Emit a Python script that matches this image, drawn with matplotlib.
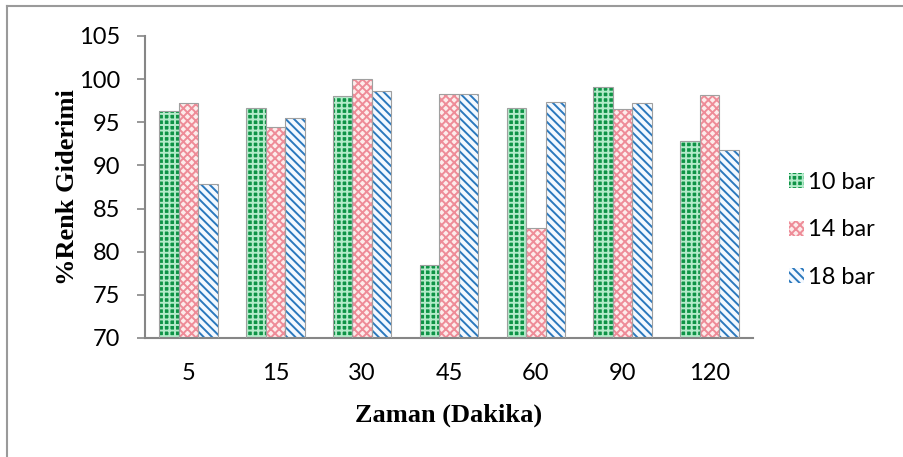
import matplotlib
matplotlib.use("Agg")
import matplotlib.pyplot as plt
import numpy as np
from matplotlib.lines import Line2D

plt.rcParams['hatch.linewidth'] = 1.4

categories = ["5", "15", "30", "45", "60", "90", "120"]
bar10 = [96.3, 96.6, 98.1, 78.5, 96.6, 99.1, 92.8]
bar14 = [97.2, 94.4, 100.0, 98.3, 82.8, 96.5, 98.2]
bar18 = [87.8, 95.5, 98.6, 98.3, 97.4, 97.2, 91.8]
series_names = ["10 bar", "14 bar", "18 bar"]
yticks = [70, 75, 80, 85, 90, 95, 100, 105]

W, H = 904, 457
fig = plt.figure(figsize=(W / 100, H / 100), dpi=100)
ax = fig.add_axes([145 / W, (H - 338) / H, 608 / W, 302 / H])

x = np.arange(len(categories))
bw = 0.225
styles = [
    dict(facecolor="#0e9346", edgecolor="#b4ebca", hatch="+++"),
    dict(facecolor="#fdeceb", edgecolor="#ee8c98", hatch="xxxx"),
    dict(facecolor="#f4f9ff", edgecolor="#2b78bd", hatch="\\\\\\\\"),
]
for i, (vals, name, st) in enumerate(zip([bar10, bar14, bar18], series_names, styles)):
    bars = ax.bar(x + (i - 1) * bw, np.array(vals) - 70, bottom=70, width=bw,
                  facecolor=st["facecolor"], edgecolor=st["edgecolor"],
                  hatch=st["hatch"], linewidth=0, label=name, zorder=2)
    for b in bars:
        ax.add_patch(plt.Rectangle((b.get_x(), 70), b.get_width(), b.get_height(),
                                   fill=False, edgecolor="#a0a0a0", linewidth=0.8, zorder=3))

ax.set_xlim(-0.5, len(categories) - 0.5)
ax.set_ylim(70, 105)
ax.set_yticks(yticks)
ax.set_xticks(x)
ax.set_xticklabels(categories)

for s in ["top", "right"]:
    ax.spines[s].set_visible(False)
for s in ["left", "bottom"]:
    ax.spines[s].set_color("#868686")
    ax.spines[s].set_linewidth(1.5)
ax.tick_params(axis="y", direction="out", length=6, width=1.2, color="#868686",
               labelsize=17, pad=12)
ax.tick_params(axis="x", length=0, labelsize=17, pad=18)
for lab in ax.get_xticklabels() + ax.get_yticklabels():
    lab.set_fontfamily("Lato")

ax.set_ylabel("%Renk Giderimi", fontfamily="Liberation Serif", fontweight="bold",
              fontsize=19, labelpad=0)
ax.set_xlabel("Zaman (Dakika)", fontfamily="Liberation Serif", fontweight="bold",
              fontsize=19, labelpad=14)

leg = ax.legend(loc="center left", bbox_to_anchor=(1.025, 0.358), frameon=False,
                prop={"family": "Lato", "size": 17}, handlelength=0.6,
                handleheight=0.6, handletextpad=0.2, labelspacing=1.12)

# outer chart border (top and left only visible)
fig.add_artist(Line2D([7 / W, 7 / W], [0, 1 - 6 / H], transform=fig.transFigure,
                      color="#9a9a9a", linewidth=1.5))
fig.add_artist(Line2D([7 / W, 1], [1 - 6 / H, 1 - 6 / H], transform=fig.transFigure,
                      color="#9a9a9a", linewidth=1.5))

fig.savefig("out.png", dpi=100)
